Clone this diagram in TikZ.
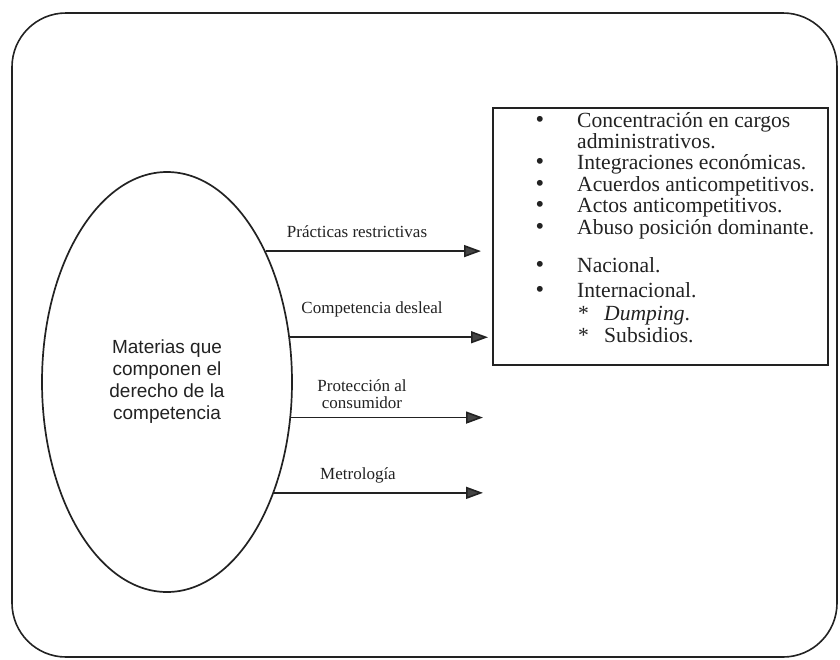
\documentclass[tikz,border=0pt]{standalone}
\usepackage{fontspec}
\setmainfont{Liberation Serif}
\newfontfamily\hvfont{Liberation Sans}
\usetikzlibrary{shapes.geometric,arrows.meta}
\definecolor{ink}{HTML}{222222}
\definecolor{tipfill}{HTML}{444444}
\tikzset{
  frame/.style={draw=ink,line width=1.6pt,rounded corners=54pt},
  bubble/.style={draw=ink,line width=1.7pt,ellipse,minimum width=250pt,minimum height=420pt,inner sep=0pt,
    font=\hvfont\fontsize{19}{22}\selectfont,align=center,text=ink},
  listbox/.style={draw=ink,line width=1.5pt,rectangle,inner sep=0pt},
  flow/.style={draw=ink,line width=1.6pt,-{Triangle[length=17pt,width=12pt,fill=tipfill]}},
  lbl/.style={font=\fontsize{17}{17}\selectfont,align=center,text=ink,inner sep=0pt},
  itm/.style={font=\fontsize{21.6}{21.6}\selectfont,anchor=base west,text=ink,inner sep=0pt},
  bul/.style={font=\hvfont\fontsize{21.6}{21.6}\selectfont,anchor=center,text=ink,inner sep=0pt}
}
\begin{document}
\begin{tikzpicture}[x=1pt,y=-1pt]
\useasboundingbox (0,0) rectangle (840,659);
\draw[frame] (12,13) rectangle (837,657);

\node[bubble] (mat) at (167,382) {Materias que\\componen el\\derecho de la\\competencia};

\node[listbox,minimum width=335pt,minimum height=257pt] (box) at (660.5,236.5) {};

% arrow end points
\coordinate (e1) at (481,249);
\coordinate (e2) at (488,337);
\coordinate (e3) at (483,418);
\coordinate (e4) at (483,493);

\draw[flow] (mat.53.9) -- (e1 |- mat.53.9);
\draw[flow] (mat.20.2) -- (e2 |- mat.20.2);
\draw[flow] (mat.-16.3) -- (e3 |- mat.-16.3);
\draw[flow] (mat.-46.3) -- (e4 |- mat.-46.3);

\node[lbl] (l1) at (357,232) {Prácticas restrictivas};
\node[lbl] (l2) at (372,309) {Competencia desleal};
\node[lbl] (l3) at (362,394) {Protección al\\consumidor};
\node[lbl] (l4) at (358,475) {Metrología};

% list items
\node[bul] (b1) at (540,121) {•};
\node[itm] (t1) at (577,127) {Concentración en cargos};
\node[itm] (t1b) at (577,148) {administrativos.};
\node[bul] (b2) at (540,163) {•};
\node[itm] (t2) at (577,169) {Integraciones económicas.};
\node[bul] (b3) at (540,185) {•};
\node[itm] (t3) at (577,191) {Acuerdos anticompetitivos.};
\node[bul] (b4) at (540,206) {•};
\node[itm] (t4) at (577,212) {Actos anticompetitivos.};
\node[bul] (b5) at (540,228) {•};
\node[itm] (t5) at (577,234) {Abuso posición dominante.};
\node[bul] (b6) at (540,266) {•};
\node[itm] (t6) at (577,272) {Nacional.};
\node[bul] (b7) at (540,291) {•};
\node[itm] (t7) at (577,297) {Internacional.};
\node[itm] (s1) at (578,320) {*};
\node[itm] (t8) at (604,320) {\textit{Dumping}.};
\node[itm] (s2) at (578,342) {*};
\node[itm] (t9) at (604,342) {Subsidios.};
\end{tikzpicture}
\end{document}
